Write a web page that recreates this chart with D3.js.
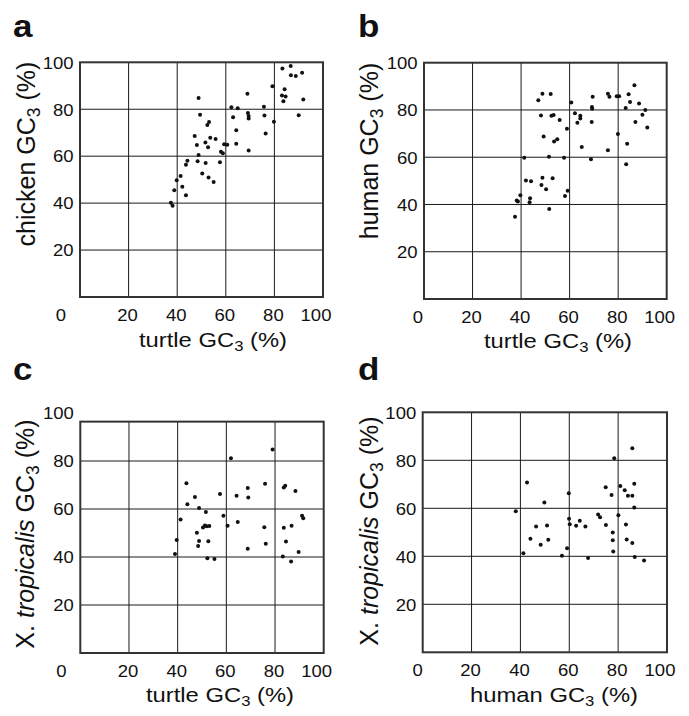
<!DOCTYPE html>
<html>
<head>
<meta charset="utf-8">
<script src="https://cdn.jsdelivr.net/npm/d3@7"></script>
<style>
  body { margin: 0; background: #fff; }
  text { font-family: "Liberation Sans", Arial, Helvetica, sans-serif; fill: #111; }
</style>
</head>
<body>
<div id="chart"></div>
<script>
// values (GC3 %, one dot per gene)
const turtleA  = [83.3,86.7,86.8,88.8,91.4,91.9,90.0,84.2,83.1,84.6,83.7,79.2,68.9,75.7,62.3,64.9,63.0,69.1,69.4,69.4,75.9,79.8,76.4,64.3,64.3,69.4,48.8,49.4,53.1,52.4,47.2,48.1,51.6,52.7,53.6,55.8,48.8,48.4,51.7,50.3,52.9,55.0,58.0,58.8,59.3,60.6,57.6,43.6,44.2,41.4,39.8,42.1,38.8,43.6,37.4,38.1];
const chickenA = [97.4,98.4,94.5,94.2,95.6,84.1,77.4,88.5,85.9,85.4,83.4,89.8,86.6,81.1,80.8,80.4,76.6,78.4,77.1,76.1,77.3,74.7,69.7,71.0,65.3,62.4,84.8,77.6,74.6,73.3,68.6,64.8,65.8,63.8,67.9,67.3,60.5,57.8,57.1,52.6,50.9,49.0,61.9,61.2,65.1,64.9,57.4,56.4,58.1,51.6,49.7,47.0,45.5,43.3,40.2,38.9];

const turtleB = [86.7,80.4,84.3,84.9,83.1,88.6,91.2,90.0,87.1,92.0,79.9,83.7,83.3,75.8,75.8,76.4,79.4,69.5,69.2,69.3,69.1,68.8,60.7,62.2,63.2,64.4,64.4,65.0,47.1,48.8,52.2,48.2,52.5,53.4,55.9,58.9,49.3,53.6,54.9,41.3,51.5,57.7,42.0,44.1,48.8,53.0,48.4,50.3,59.2,58.1,39.7,38.2,38.7,43.7,43.5,51.6,37.5];
const humanB  = [90.5,85.8,86.6,83.4,80.8,82.7,80.0,78.0,74.9,72.6,69.8,65.7,57.0,62.9,86.9,85.6,85.8,85.6,81.2,80.5,74.9,59.1,83.2,78.6,74.6,77.6,76.4,64.3,84.1,86.9,86.8,77.7,77.6,77.9,75.8,72.1,68.8,66.6,67.6,59.8,60.2,59.8,50.2,49.8,51.3,51.1,48.2,46.4,45.8,43.6,43.9,41.7,41.3,42.6,40.9,38.1,34.8];

const turtleC = [79.0,61.9,43.6,75.9,83.6,84.2,88.4,68.8,69.0,64.2,57.4,47.1,44.0,48.8,51.6,58.8,41.2,91.1,91.6,64.7,60.5,50.4,51.2,51.9,53.0,75.6,83.6,86.8,47.9,48.8,52.6,84.5,48.4,76.2,68.8,39.6,38.9,52.2,55.1,83.2,89.7,86.6];
const xtropC  = [84.8,81.1,70.7,70.5,69.0,69.7,67.5,68.7,64.8,65.5,66.3,65.0,62.0,60.4,58.7,57.2,55.6,57.2,56.1,54.6,53.0,52.3,53.1,52.8,52.9,52.4,52.2,53.0,50.1,46.7,46.6,46.5,44.6,45.5,43.4,47.1,41.2,39.5,39.2,40.2,42.1,38.1];

const humanD = [85.8,78.4,42.7,86.6,74.9,80.9,82.7,77.3,84.0,85.8,59.8,49.8,86.6,38.1,71.8,72.6,80.1,59.9,60.2,64.3,62.8,66.6,75.0,83.2,46.4,50.9,51.4,44.1,48.3,77.8,77.8,83.5,85.8,59.1,78.0,41.2,57.0,67.7,86.8,90.6];
const xtropD = [85.0,80.9,70.7,70.2,68.8,69.3,67.5,65.5,65.2,65.2,66.3,62.4,60.3,58.8,57.4,56.3,57.1,55.6,53.4,54.8,52.7,52.4,53.0,53.3,52.4,52.8,46.9,47.3,44.8,49.9,46.7,47.0,45.5,43.4,42.0,41.3,40.2,39.3,39.7,38.3];

const gridValues = [20, 40, 60, 80];
const tickValues = [20, 40, 60, 80, 100];

const panels = [
  {letter: "a", lx: 13, ly: 36.5, xs: turtleA, ys: chickenA, xr: [80, 323], yr: [297, 62.3], yTop: 100,
   zeroDx: -19, xName: "turtle", yName: ["chicken"], xtc: 213, xtb: 347, ytx: 35, ytc: 154},
  {letter: "b", lx: 358, ly: 36.5, xs: turtleB, ys: humanB, xr: [424, 666.7], yr: [299, 62.7], yTop: 100,
   zeroDx: -6, xName: "turtle", yName: ["human"], xtc: 558, xtb: 348, ytx: 378, ytc: 151},
  {letter: "c", lx: 13, ly: 380, xs: turtleC, ys: xtropC, xr: [80.3, 323.7], yr: [653, 413], yTop: 96.4,
   zeroDx: -19, xName: "turtle", yName: ["X. ", "tropicalis"], xtc: 220, xtb: 702, ytx: 33.5, ytc: 534},
  {letter: "d", lx: 358, ly: 380, xs: humanD, ys: xtropD, xr: [422.7, 667], yr: [652.3, 412.3], yTop: 100,
   zeroDx: -5, xName: "human", yName: ["X. ", "tropicalis"], xtc: 554, xtb: 702, ytx: 378, ytc: 531}
];

const svg = d3.select("#chart").append("svg")
    .attr("width", 689)
    .attr("height", 716);

function gcLabel(sel, parts) {
  parts.forEach((p, i) => {
    sel.append("tspan")
      .style("font-style", i === 1 ? "italic" : null)
      .text(p);
  });
  sel.append("tspan").text(" GC");
  sel.append("tspan").attr("font-size", "0.7em").attr("dy", 5).text("3");
  sel.append("tspan").attr("dy", -5).text(" (%)");
}

panels.forEach(p => {
  const x = d3.scaleLinear().domain([0, 100]).range(p.xr);
  const y = d3.scaleLinear().domain([0, 100]).range(p.yr);
  const g = svg.append("g");

  // grid
  g.selectAll(".vgrid").data(gridValues).enter().append("line")
      .attr("x1", d => x(d)).attr("x2", d => x(d))
      .attr("y1", y(0)).attr("y2", y(p.yTop))
      .attr("stroke", "#1a1a1a").attr("stroke-width", 1);
  g.selectAll(".hgrid").data(gridValues).enter().append("line")
      .attr("x1", x(0)).attr("x2", x(100))
      .attr("y1", d => y(d)).attr("y2", d => y(d))
      .attr("stroke", "#1a1a1a").attr("stroke-width", 1);

  // frame
  g.append("rect")
      .attr("x", x(0)).attr("y", y(p.yTop))
      .attr("width", x(100) - x(0)).attr("height", y(0) - y(p.yTop))
      .attr("fill", "none").attr("stroke", "#333").attr("stroke-width", 2);

  // dots
  g.selectAll("circle").data(p.xs).enter().append("circle")
      .attr("cx", (d, i) => x(d))
      .attr("cy", (d, i) => y(p.ys[i]))
      .attr("r", 2)
      .attr("fill", "#111");

  // y ticks
  g.selectAll(".ytick").data(tickValues).enter().append("text")
      .attr("transform", d => "translate(" + (x(0) - 6.5) + "," + (y(d) + 6.3) + ") scale(1,0.9)")
      .attr("text-anchor", "end")
      .attr("font-size", 18.5)
      .text(d => d);

  // x ticks
  g.selectAll(".xtick").data(tickValues).enter().append("text")
      .attr("transform", d => "translate(" + (x(d) + (d === 100 ? -7 : -1)) + "," + (y(0) + 24) + ") scale(1,0.9)")
      .attr("text-anchor", "middle")
      .attr("font-size", 18.5)
      .text(d => d);

  g.append("text")
      .attr("transform", "translate(" + (x(0) + p.zeroDx) + "," + (y(0) + 24) + ") scale(1,0.9)")
      .attr("text-anchor", "middle")
      .attr("font-size", 18.5)
      .text("0");

  // axis titles
  const xt = g.append("text")
      .attr("transform", "translate(" + p.xtc + "," + p.xtb + ") scale(1,0.87)")
      .attr("text-anchor", "middle")
      .attr("font-size", 23.8);
  gcLabel(xt, [p.xName]);

  const yt = g.append("text")
      .attr("transform", "translate(" + p.ytx + "," + p.ytc + ") rotate(-90)")
      .attr("text-anchor", "middle")
      .attr("font-size", 25);
  gcLabel(yt, p.yName);

  // panel letter
  g.append("text")
      .attr("transform", "translate(" + p.lx + "," + p.ly + ") scale(1,0.9)")
      .attr("font-size", 35)
      .attr("font-weight", "bold")
      .text(p.letter);
});
</script>
</body>
</html>
